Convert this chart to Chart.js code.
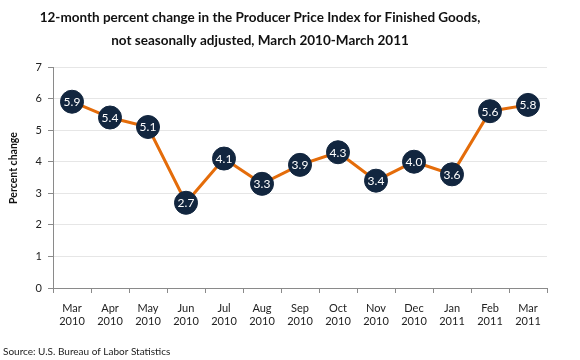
<!DOCTYPE html>
<html lang="en">
<head>
  <meta charset="UTF-8" />
  <title>PPI Finished Goods, 12-month percent change</title>
  <script src="https://cdn.jsdelivr.net/npm/chart.js"></script>
  <style>
    html, body { margin: 0; padding: 0; background: #fff; }
    #wrap { width: 580px; height: 360px; }
  </style>
</head>
<body>
  <div id="wrap"><canvas id="ppiChart" width="580" height="360"></canvas></div>

  <script>
    // chart data
    const months = ['Mar', 'Apr', 'May', 'Jun', 'Jul', 'Aug', 'Sep', 'Oct', 'Nov', 'Dec', 'Jan', 'Feb', 'Mar'];
    const years = ['2010', '2010', '2010', '2010', '2010', '2010', '2010', '2010', '2010', '2010', '2011', '2011', '2011'];
    const pctChange = [5.9, 5.4, 5.1, 2.7, 4.1, 3.3, 3.9, 4.3, 3.4, 4.0, 3.6, 5.6, 5.8];
    const yTicks = [0, 1, 2, 3, 4, 5, 6, 7];

    const titleLines = [
      '12-month percent change in the Producer Price Index for Finished Goods,',
      'not seasonally adjusted, March 2010-March 2011'
    ];
    const FONT = 'Lato, "Open Sans", sans-serif';

    // title, axis title, source note and the value labels in the markers
    const extras = {
      id: 'extras',
      afterDatasetsDraw(chart) {
        const ctx = chart.ctx;
        ctx.save();
        ctx.fillStyle = '#fff';
        ctx.font = '12px ' + FONT;
        ctx.textAlign = 'center';
        ctx.textBaseline = 'middle';
        chart.getDatasetMeta(0).data.forEach((pt, i) => {
          ctx.fillText(pctChange[i].toFixed(1), pt.x, pt.y + 0.5);
        });
        ctx.restore();
      },
      afterDraw(chart) {
        const ctx = chart.ctx;
        ctx.save();
        ctx.fillStyle = '#111';
        ctx.textAlign = 'center';
        ctx.textBaseline = 'middle';
        ctx.font = 'bold 13.5px ' + FONT;
        ctx.fillText(titleLines[0], 260, 18);
        ctx.fillText(titleLines[1], 260, 41);

        // y axis title
        ctx.font = 'bold 10.5px ' + FONT;
        ctx.translate(14, 168);
        ctx.rotate(-Math.PI / 2);
        ctx.fillText('Percent change', 0, 0);
        ctx.setTransform(1, 0, 0, 1, 0, 0);

        ctx.textAlign = 'left';
        ctx.font = '10px ' + FONT;
        ctx.fillStyle = '#222';
        ctx.fillText('Source: U.S. Bureau of Labor Statistics', 3, 352);
        ctx.restore();
      }
    };

    new Chart(document.getElementById('ppiChart'), {
      type: 'line',
      data: {
        labels: months.map((m, i) => [m, years[i]]),
        datasets: [{
          data: pctChange,
          borderColor: '#E46C0A',
          borderWidth: 3,
          tension: 0,
          pointRadius: 11.5,
          pointHoverRadius: 11.5,
          pointBackgroundColor: '#12263F',
          pointBorderColor: '#12263F',
          pointBorderWidth: 1,
          clip: false
        }]
      },
      options: {
        responsive: false,
        animation: false,
        layout: { padding: { top: 67, left: 0, right: 33, bottom: 0 } },
        plugins: {
          legend: { display: false },
          tooltip: { enabled: false }
        },
        scales: {
          x: {
            offset: true,
            grid: {
              offset: true,
              drawOnChartArea: false,
              drawTicks: true,
              tickLength: 5,
              tickColor: '#8a8a8a'
            },
            border: { color: '#8a8a8a', width: 1 },
            ticks: {
              color: '#222',
              font: { family: FONT, size: 11 },
              padding: 9,
              maxRotation: 0,
              autoSkip: false
            },
            afterFit(scale) { scale.height = 72; }
          },
          y: {
            min: 0,
            max: 7,
            afterBuildTicks(scale) { scale.ticks = yTicks.map(v => ({ value: v })); },
            grid: {
              color: '#e6e6e6',
              tickColor: '#8a8a8a',
              tickLength: 5
            },
            border: { color: '#8a8a8a', width: 1 },
            ticks: {
              color: '#222',
              font: { family: FONT, size: 11 },
              padding: 6
            },
            afterFit(scale) { scale.width = 53; }
          }
        }
      },
      plugins: [extras]
    });
  </script>
</body>
</html>
